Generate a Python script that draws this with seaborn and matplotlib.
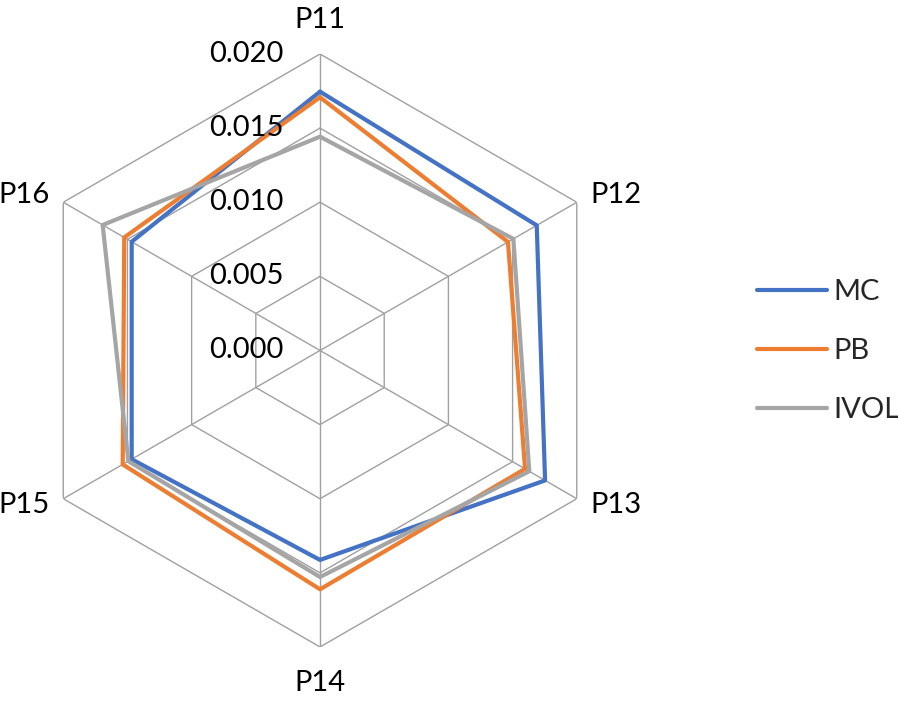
import numpy as np
import pandas as pd
import matplotlib
matplotlib.use("Agg")
import matplotlib.pyplot as plt
import seaborn as sns

# dados
categorias = ["P11", "P12", "P13", "P14", "P15", "P16"]
mc = [0.01746, 0.01688, 0.01753, 0.01413, 0.01467, 0.01467]
pb = [0.01708, 0.01464, 0.01597, 0.01611, 0.01537, 0.01525]
ivol = [0.01442, 0.01506, 0.01630, 0.01528, 0.01493, 0.01693]
anel_ticks = [0.000, 0.005, 0.010, 0.015, 0.020]
series = {"MC": mc, "PB": pb, "IVOL": ivol}
cores = {"MC": "#4472C4", "PB": "#ED7D31", "IVOL": "#A5A5A5"}

sns.set_theme(style="white")
plt.rcParams["font.family"] = ["Lato", "DejaVu Sans"]
fs = 21

n = len(categorias)
theta = np.arange(n) * 2 * np.pi / n
theta_fechado = np.append(theta, 2 * np.pi)

linhas = []
for nome, vals in series.items():
    v = list(vals) + [vals[0]]
    for t, r in zip(theta_fechado, v):
        linhas.append({"theta": t, "valor": r, "serie": nome})
df = pd.DataFrame(linhas)

fig = plt.figure(figsize=(8.98, 7.03), dpi=100, facecolor="white")
ax = fig.add_axes([0.02617, 0.0797, 0.6604, 0.8435], projection="polar")
ax.set_theta_zero_location("N")
ax.set_theta_direction(-1)
rmax = anel_ticks[-1]
ax.set_ylim(0, rmax)
ax.grid(False)
ax.spines["polar"].set_visible(False)
ax.set_xticks([])
ax.set_yticks([])
ax.set_facecolor("white")

# grade hexagonal
cor_grade = "#A0A0A0"
for r in anel_ticks[1:]:
    ax.plot(theta_fechado, [r] * (n + 1), color=cor_grade, lw=1.0, zorder=1)
for t in theta:
    ax.plot([t, t], [0, rmax], color=cor_grade, lw=1.0, zorder=1)

sns.lineplot(data=df, x="theta", y="valor", hue="serie", palette=cores,
             sort=False, estimator=None, lw=3.0, ax=ax, zorder=3, legend=False)

# rótulos das categorias (deslocados a partir do vértice externo)
for t, c in zip(theta, categorias):
    s, co = np.sin(t), np.cos(t)
    if abs(s) < 1e-6:
        off, ha = (0, 24.5 if co > 0 else -26), "center"
    else:
        off = (9.5 * np.sign(s), 5 if co > 0 else -4.3)
        ha = "left" if s > 0 else "right"
    ax.annotate(c, xy=(t, rmax), xytext=off, textcoords="offset points",
                ha=ha, va="center", fontsize=fs, color="black")

# rótulos do eixo radial
for r in anel_ticks:
    ax.annotate(f"{r:.3f}", xy=(0, r), xytext=(-26, 0), textcoords="offset points",
                ha="right", va="center", fontsize=fs, color="black", zorder=4)

ax.set_xlabel("")
ax.set_ylabel("")

handles = [plt.Line2D([], [], color=cores[k], lw=3.0, solid_capstyle="round") for k in series]
fig.legend(handles, list(series.keys()), loc="center left", bbox_to_anchor=(0.814, 0.5007),
           frameon=False, fontsize=fs, handlelength=2.4, handletextpad=0.2, labelspacing=1.14)

fig.savefig("out.png", dpi=100, facecolor="white")
